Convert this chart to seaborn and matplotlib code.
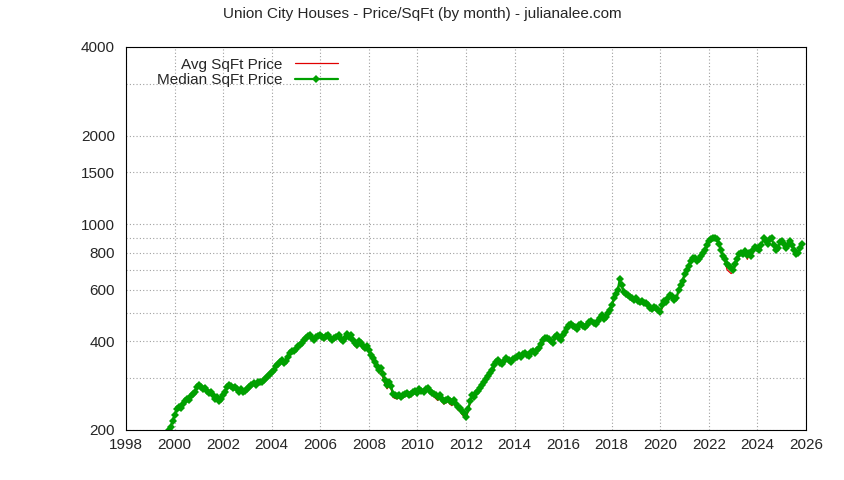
import numpy as np
import pandas as pd
import matplotlib
matplotlib.use("Agg")
import matplotlib.pyplot as plt
import seaborn as sns

# monthly values, Oct 1999 .. Nov 2025
median_sqft = [
    200, 205, 215,
    225, 235, 240, 238, 245, 250, 255, 252, 260, 265, 270, 280,
    285, 280, 275, 278, 272, 268, 270, 262, 255, 258, 250, 255,
    262, 270, 280, 285, 282, 278, 280, 275, 270, 275, 270, 272,
    275, 280, 285, 288, 285, 290, 292, 290, 295, 300, 305, 310,
    315, 320, 330, 335, 340, 345, 338, 342, 355, 365, 370, 372,
    378, 385, 390, 395, 405, 412, 418, 420, 410, 405, 415, 418,
    420, 415, 410, 418, 420, 412, 405, 410, 415, 420, 408, 400,
    410, 425, 415, 420, 405, 395, 388, 400, 395, 385, 380, 385,
    375, 360, 350, 340, 330, 320, 325, 310, 295, 285, 290, 282,
    265, 262, 260, 262, 258, 262, 265, 268, 262, 265, 270, 272,
    268, 275, 272, 270, 275, 278, 272, 268, 265, 262, 258, 262,
    255, 250, 252, 255, 250, 248, 252, 245, 240, 238, 232, 228,
    222, 235, 250, 262, 258, 268, 272, 278, 285, 290, 298, 305,
    312, 320, 332, 340, 345, 338, 335, 342, 350, 345, 340, 348,
    352, 355, 360, 355, 362, 365, 360, 358, 368, 372, 365, 375,
    380, 392, 405, 410, 412, 408, 400, 395, 415, 420, 410, 405,
    420, 430, 445, 455, 460, 452, 448, 440, 455, 460, 450, 448,
    455, 465, 470, 462, 458, 470, 480, 490, 478, 485, 500, 510,
    530, 560, 580, 600, 650, 620, 590, 580, 575, 565, 560, 555,
    560, 550, 545, 548, 540, 538, 530, 520, 515, 525, 520, 510,
    505, 530, 550, 545, 560, 575, 570, 555, 560, 600, 620, 640,
    680, 700, 720, 750, 770, 765, 750, 760, 780, 800, 820, 850,
    880, 890, 900, 895, 890, 860, 820, 780, 760, 730, 720, 710,
    700, 730, 760, 790, 800, 790, 810, 785, 800, 780, 820, 840,
    830, 820, 850, 900, 880, 860, 890, 900, 850, 820, 830, 870,
    880, 860, 830, 850, 880, 850, 820, 790, 800, 830, 860,
]
avg_sqft = [
    198, 204, 212,
    222, 232, 238, 236, 243, 248, 252, 250, 258, 262, 268, 276,
    282, 276, 270, 275, 268, 262, 266, 258, 250, 255, 246, 250,
    258, 266, 276, 282, 280, 275, 277, 272, 266, 272, 268, 270,
    272, 278, 283, 286, 283, 288, 290, 288, 292, 298, 302, 306,
    312, 318, 326, 332, 336, 340, 335, 340, 350, 360, 366, 370,
    374, 380, 386, 392, 400, 406, 412, 415, 405, 398, 408, 412,
    415, 410, 402, 410, 414, 406, 398, 404, 410, 414, 402, 394,
    404, 418, 410, 414, 398, 388, 380, 392, 388, 378, 372, 378,
    368, 352, 342, 332, 322, 312, 318, 300, 285, 276, 282, 275,
    258, 256, 255, 258, 254, 258, 260, 264, 258, 260, 266, 268,
    264, 270, 268, 266, 270, 274, 268, 264, 260, 256, 252, 256,
    250, 245, 247, 250, 245, 242, 246, 240, 234, 232, 226, 222,
    218, 230, 245, 258, 254, 264, 268, 274, 280, 286, 294, 300,
    308, 316, 326, 335, 340, 334, 330, 338, 345, 340, 335, 344,
    348, 350, 355, 350, 357, 360, 356, 353, 362, 366, 360, 370,
    375, 386, 398, 404, 406, 402, 394, 388, 408, 414, 404, 398,
    412, 424, 438, 448, 452, 446, 440, 432, 448, 452, 442, 440,
    448, 458, 462, 455, 450, 462, 472, 482, 470, 478, 492, 502,
    520, 550, 570, 592, 640, 610, 582, 572, 566, 556, 552, 548,
    552, 542, 538, 540, 532, 530, 522, 512, 506, 516, 512, 502,
    496, 520, 542, 536, 552, 566, 562, 546, 552, 590, 610, 630,
    668, 690, 710, 740, 760, 755, 740, 750, 770, 790, 810, 840,
    870, 880, 890, 885, 880, 850, 808, 768, 745, 700, 690, 680,
    690, 720, 750, 780, 790, 780, 800, 760, 790, 770, 810, 830,
    820, 810, 840, 890, 870, 850, 880, 890, 840, 810, 820, 860,
    870, 850, 820, 840, 870, 840, 810, 780, 790, 820, 850,
]
dates = 1999.75 + np.arange(len(median_sqft)) / 12.0

df = pd.DataFrame({"date": dates, "avg": avg_sqft, "median": median_sqft})

sns.set_style("white")
plt.rcParams["font.family"] = ["Liberation Sans", "DejaVu Sans"]
plt.rcParams["font.size"] = 11

fig = plt.figure(figsize=(8.44, 4.8), dpi=100)
ax = fig.add_axes([126 / 844, 1 - 430 / 480, 680 / 844, 383 / 480])

sns.lineplot(data=df, x="date", y="avg", ax=ax, color="#e00000", lw=0.9,
             label="Avg SqFt Price")
sns.lineplot(data=df, x="date", y="median", ax=ax, color="#00a000", lw=1.6,
             marker="D", markersize=4, markeredgewidth=0,
             label="Median SqFt Price")

ax.set_yscale("log")
ax.set_ylim(200, 4000)
ax.set_xlim(1998, 2026)
ax.set_xticks(range(1998, 2027, 2))
ax.set_yticks([200, 400, 600, 800, 1000, 1500, 2000, 4000])
ax.set_yticks([300, 500, 700, 900, 3000], minor=True)
ax.yaxis.set_major_formatter(matplotlib.ticker.FuncFormatter(lambda v, p: f"{v:.0f}"))
ax.yaxis.set_minor_formatter(matplotlib.ticker.NullFormatter())
ax.tick_params(which="both", direction="in", length=5, labelsize=11, color="black")
ax.tick_params(axis="y", pad=8)
ax.tick_params(axis="x", pad=6)
ax.grid(True, which="both", color="#a0a0a0", linestyle=(0, (1, 2)), lw=0.8)
for s in ax.spines.values():
    s.set_color("black")
    s.set_linewidth(0.8)
ax.set_xlabel("")
ax.set_ylabel("")

leg = ax.legend(loc="upper left", bbox_to_anchor=(0.03, 1.0), frameon=False,
                markerfirst=False, handlelength=2.8, fontsize=11,
                borderpad=0.2, labelspacing=0.1)
for t in leg.get_texts():
    t.set_ha("right")

fig.suptitle("Union City Houses - Price/SqFt (by month) - julianalee.com",
             y=0.985, fontsize=11)

fig.savefig("out.png", dpi=100, facecolor="white")
